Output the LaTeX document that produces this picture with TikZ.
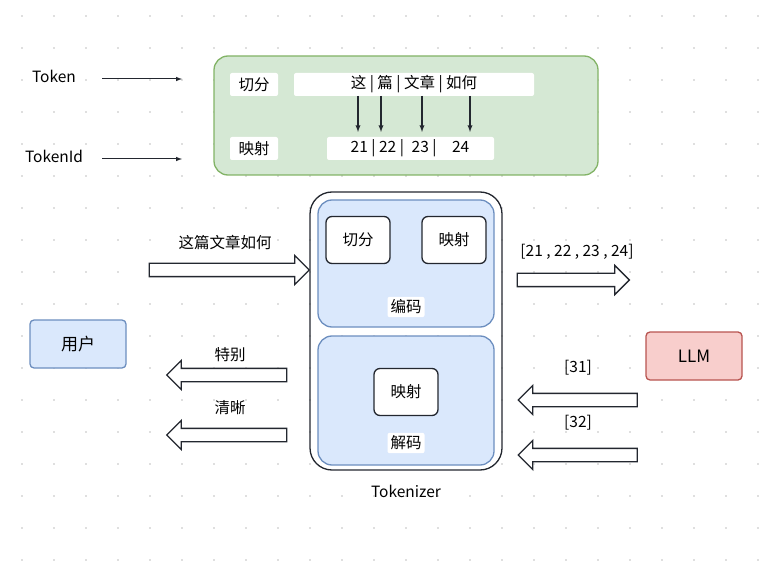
\documentclass[tikz,border=0pt]{standalone}
\usepackage{fontspec}
\setmainfont{Noto Sans CJK SC}
\usetikzlibrary{shapes.arrows,positioning}
\definecolor{greenfill}{HTML}{D5E8D4}
\definecolor{greenline}{HTML}{82B366}
\definecolor{bluefill}{HTML}{DAE8FC}
\definecolor{blueline}{HTML}{6C8EBF}
\definecolor{redfill}{HTML}{F8CECC}
\definecolor{redline}{HTML}{B85450}
\definecolor{darkline}{HTML}{23272F}

\begin{document}
\begin{tikzpicture}[x=1pt, y=-1pt, font=\fontsize{15.5}{18}\selectfont]
\tikzset{whitebox/.style={fill=white,rounded corners=2pt,inner sep=0pt},
blockbox/.style={draw=darkline,line width=1.3pt,fill=white,rounded corners=6pt},
fatarrow/.style={single arrow,draw=darkline,line width=1.3pt,fill=white,inner sep=6pt,text height=0pt,text depth=0pt,
  single arrow head extend=8pt,single arrow head indent=0pt,minimum height=#1}}

\useasboundingbox (0,0) rectangle (760,561);
\foreach \i in {0,...,23} \foreach \j in {0,...,17}
  \fill[black!25] (22+32*\i,16+32*\j) circle (0.9pt);

%% Top panel
\draw[greenline,line width=1.3pt,fill=greenfill,rounded corners=14pt] (214,56) rectangle (598,175);
\fill[whitebox] (230,73) rectangle (278,96);
\node (cut) at (254,84.5) {切分};
\fill[whitebox] (294,73) rectangle (534,96);
\node (words) at (414,84.5) {这 | 篇 | 文章 | 如何};
\fill[whitebox] (230,137) rectangle (278,160);
\node (map) at (254,148.5) {映射};
\fill[whitebox] (327,137) rectangle (494,160);
\node (ids) at (410,148.5) {21 | 22 |\enspace 23 |\quad 24};
\foreach \x in {358,381,422,470} {
  \coordinate (a\x) at (\x,96); \coordinate (b\x) at (\x,132);
  \draw[darkline,line width=1.3pt,-latex] (a\x) -- (b\x);}

\node (tok) at (54,76) {Token};
\node (tokid) at (54,156) {TokenId};
\coordinate (t1) at (102,79); \coordinate (t2) at (182,79);
\coordinate (u1) at (102,159); \coordinate (u2) at (182,159);
\draw[darkline,line width=1pt,-latex] (t1) -- (t2);
\draw[darkline,line width=1pt,-latex] (u1) -- (u2);

%% Tokenizer
\draw[darkline,line width=1.3pt,rounded corners=22pt] (310,192) rectangle (502,470);
\node (tkz) at (406,491) {Tokenizer};
\draw[blueline,line width=1.3pt,fill=bluefill,rounded corners=14pt] (318,200) rectangle (494,327);
\node (cutb) [blockbox,minimum width=64pt,minimum height=47pt] at (358,240) {切分};
\node (mapb) [blockbox,minimum width=64pt,minimum height=47pt] at (454,240) {映射};
\node (enc) [whitebox,inner sep=3pt] at (406,307) {编码};
\draw[blueline,line width=1.3pt,fill=bluefill,rounded corners=14pt] (318,336) rectangle (494,465);
\node (mapd) [blockbox,minimum width=64pt,minimum height=47pt] at (406,392) {映射};
\node (dec) [whitebox,inner sep=3pt] at (406,443) {解码};

%% Side boxes
\node (user) [draw=blueline,line width=1.3pt,fill=bluefill,rounded corners=4pt,minimum width=96pt,minimum height=48pt,font=\fontsize{17}{19}\selectfont] at (78,344) {用户};
\node (llm) [draw=redline,line width=1.3pt,fill=redfill,rounded corners=4pt,minimum width=96pt,minimum height=48pt,font=\fontsize{17}{19}\selectfont] at (694,356) {LLM};

%% Flow arrows
\node (inarr) [fatarrow=160pt] at (226,270) {};
\node (inlab) at (225,243) {这篇文章如何};
\node (outarr) [fatarrow=112pt] at (570,280) {};
\node (outlab) at (577,252) {[21 , 22 , 23 , 24]};
\node (back1) [fatarrow=120pt,shape border rotate=180] at (230,375) {};
\node (lab1) at (230,355) {特别};
\node (back2) [fatarrow=120pt,shape border rotate=180] at (230,435) {};
\node (lab2) at (230,408) {清晰};
\node (ret1) [fatarrow=119pt,shape border rotate=180] at (581,400) {};
\node (rlab1) at (578,368) {[31]};
\node (ret2) [fatarrow=119pt,shape border rotate=180] at (581,455) {};
\node (rlab2) at (578,423) {[32]};
\end{tikzpicture}
\end{document}
